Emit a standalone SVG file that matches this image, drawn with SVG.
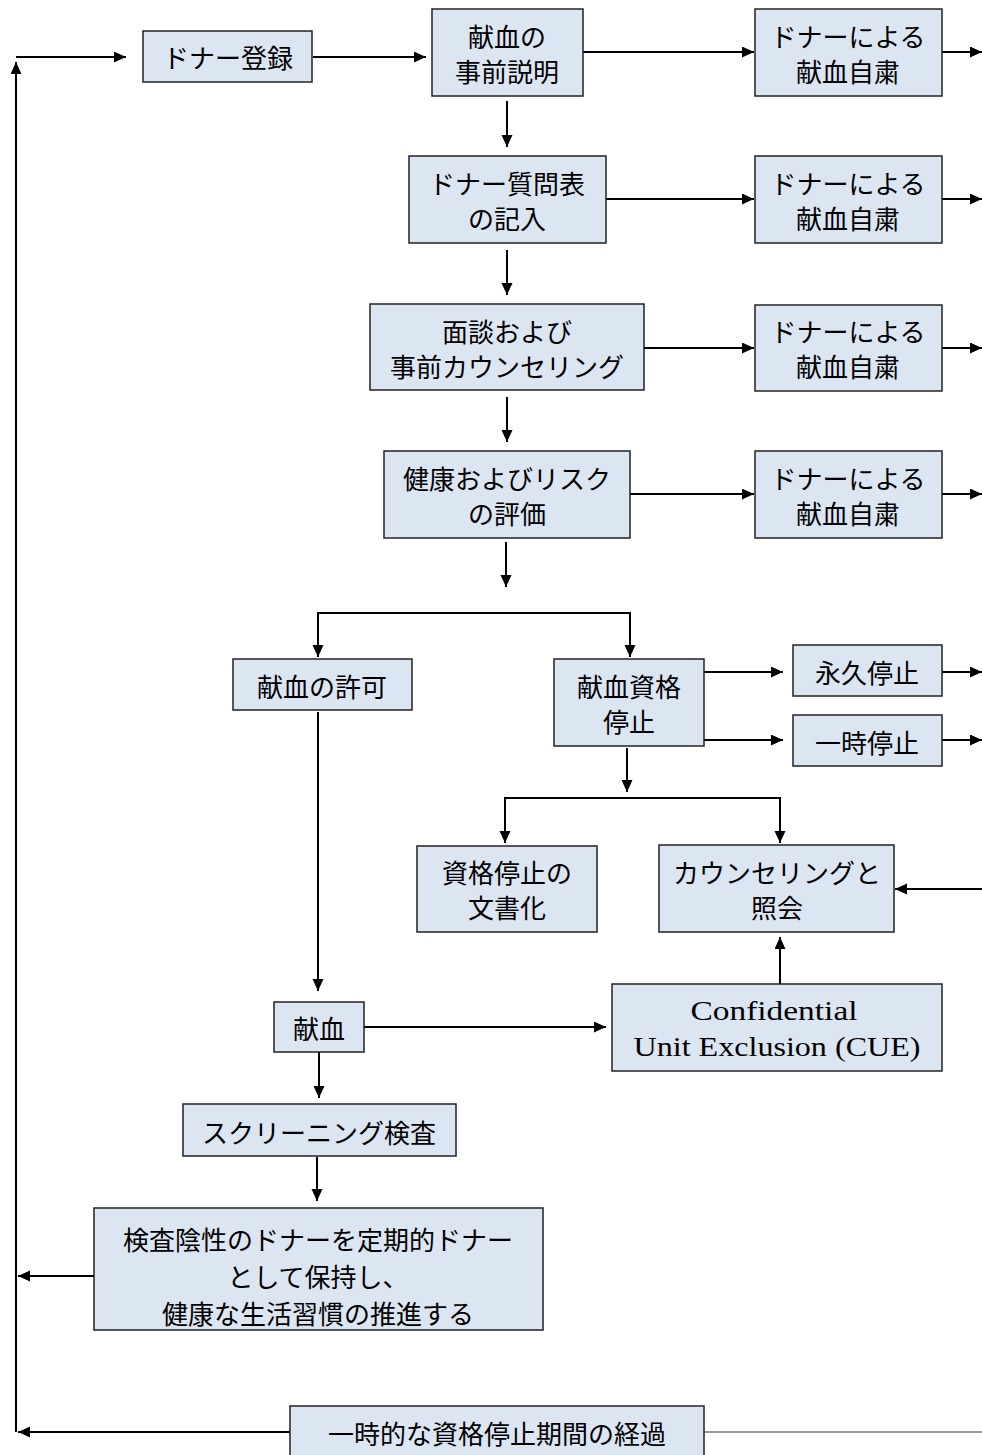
<svg xmlns="http://www.w3.org/2000/svg" width="982" height="1455" viewBox="0 0 982 1455">
<defs>
<marker id="ah" markerUnits="userSpaceOnUse" markerWidth="14" markerHeight="12" refX="12" refY="5.5" orient="auto">
<path d="M0,0 L12,5.5 L0,11 z" fill="#000"/>
</marker>
<style>
.box{fill:#dce6f2;stroke:#222;stroke-width:1.5}
.t{font-family:"Noto Sans CJK JP","Noto Sans",sans-serif;font-size:26px;fill:#000;text-anchor:middle;dominant-baseline:central}
.s{font-family:"Liberation Serif",serif;font-size:28px;fill:#000;text-anchor:middle;dominant-baseline:central}
.c{fill:none;stroke:#000;stroke-width:2}
.ca{fill:none;stroke:#000;stroke-width:2;marker-end:url(#ah)}
</style>
</defs>
<rect width="982" height="1455" fill="#fff"/>
<g id="connectors">
<path class="ca" d="M16,1432 V62"/>
<path class="ca" d="M16,57 H126"/>
<path class="ca" d="M313,57 H426"/>
<path class="ca" d="M583,52 H754"/>
<path class="ca" d="M942,52 H982"/>
<path class="ca" d="M507,101 V147"/>
<path class="ca" d="M606,199 H754"/>
<path class="ca" d="M942,199 H982"/>
<path class="ca" d="M507,250 V295"/>
<path class="ca" d="M644,348 H754"/>
<path class="ca" d="M942,348 H982"/>
<path class="ca" d="M507,397 V442"/>
<path class="ca" d="M630,494 H754"/>
<path class="ca" d="M942,494 H982"/>
<path class="ca" d="M506,542 V587"/>
<path class="c" d="M318,613 H630"/>
<path class="ca" d="M318,612 V657"/>
<path class="ca" d="M630,612 V657"/>
<path class="ca" d="M704,672 H783"/>
<path class="ca" d="M704,740 H783"/>
<path class="ca" d="M942,672 H982"/>
<path class="ca" d="M942,740 H982"/>
<path class="ca" d="M627,748 V792"/>
<path class="c" d="M505,798 H780"/>
<path class="ca" d="M505,797 V843"/>
<path class="ca" d="M780,797 V843"/>
<path class="ca" d="M982,889 H895"/>
<path class="ca" d="M780,984 V937"/>
<path class="ca" d="M318,712 V991"/>
<path class="ca" d="M364,1027 H606"/>
<path class="ca" d="M319,1052 V1098"/>
<path class="ca" d="M317,1157 V1201"/>
<path class="ca" d="M94,1276 H18"/>
<path class="ca" d="M290,1432 H18"/>
<path d="M704,1432 H982" fill="none" stroke="#777" stroke-width="1.5"/>
</g>
<g id="n-register"><rect class="box" x="143" y="31" width="169" height="51"/><text class="t" x="228" y="56">ドナー登録</text></g>
<g id="n-explain"><rect class="box" x="432" y="9" width="151" height="87"/><text class="t" x="507" y="35">献血の</text><text class="t" x="507" y="70">事前説明</text></g>
<g id="n-defer1"><rect class="box" x="755" y="9" width="187" height="87"/><text class="t" x="848" y="35">ドナーによる</text><text class="t" x="848" y="70">献血自粛</text></g>
<g id="n-questionnaire"><rect class="box" x="409" y="156" width="197" height="87"/><text class="t" x="507" y="182">ドナー質問表</text><text class="t" x="507" y="217">の記入</text></g>
<g id="n-defer2"><rect class="box" x="755" y="156" width="187" height="87"/><text class="t" x="848" y="182">ドナーによる</text><text class="t" x="848" y="217">献血自粛</text></g>
<g id="n-interview"><rect class="box" x="370" y="304" width="274" height="86"/><text class="t" x="507" y="330">面談および</text><text class="t" x="507" y="365">事前カウンセリング</text></g>
<g id="n-defer3"><rect class="box" x="755" y="305" width="187" height="86"/><text class="t" x="848" y="330">ドナーによる</text><text class="t" x="848" y="365">献血自粛</text></g>
<g id="n-assess"><rect class="box" x="384" y="451" width="246" height="87"/><text class="t" x="507" y="477">健康およびリスク</text><text class="t" x="507" y="512">の評価</text></g>
<g id="n-defer4"><rect class="box" x="755" y="451" width="187" height="87"/><text class="t" x="848" y="477">ドナーによる</text><text class="t" x="848" y="512">献血自粛</text></g>
<g id="n-permit"><rect class="box" x="233" y="659" width="179" height="51"/><text class="t" x="322" y="685">献血の許可</text></g>
<g id="n-deferral"><rect class="box" x="554" y="659" width="150" height="87"/><text class="t" x="629" y="685">献血資格</text><text class="t" x="629" y="720">停止</text></g>
<g id="n-permanent"><rect class="box" x="793" y="645" width="149" height="51"/><text class="t" x="867" y="671">永久停止</text></g>
<g id="n-temporary"><rect class="box" x="793" y="715" width="149" height="51"/><text class="t" x="867" y="741">一時停止</text></g>
<g id="n-document"><rect class="box" x="417" y="846" width="180" height="86"/><text class="t" x="507" y="871">資格停止の</text><text class="t" x="507" y="906">文書化</text></g>
<g id="n-counsel"><rect class="box" x="659" y="845" width="235" height="87"/><text class="t" x="777" y="871">カウンセリングと</text><text class="t" x="777" y="906">照会</text></g>
<g id="n-donation"><rect class="box" x="274" y="1002" width="90" height="50"/><text class="t" x="319" y="1027">献血</text></g>
<g id="n-cue"><rect class="box" x="612" y="984" width="330" height="87"/><text class="s" x="774" y="1010" textLength="167" lengthAdjust="spacingAndGlyphs">Confidential</text><text class="s" x="777" y="1046" textLength="287" lengthAdjust="spacingAndGlyphs">Unit Exclusion (CUE)</text></g>
<g id="n-screening"><rect class="box" x="183" y="1104" width="273" height="52"/><text class="t" x="319" y="1131">スクリーニング検査</text></g>
<g id="n-retain"><rect class="box" x="94" y="1208" width="449" height="122"/><text class="t" x="318" y="1238">検査陰性のドナーを定期的ドナー</text><text class="t" x="318" y="1275">として保持し、</text><text class="t" x="318" y="1312">健康な生活習慣の推進する</text></g>
<g id="n-elapsed"><rect class="box" x="290" y="1406" width="414" height="60"/><text class="t" x="497" y="1432">一時的な資格停止期間の経過</text></g>
</svg>
